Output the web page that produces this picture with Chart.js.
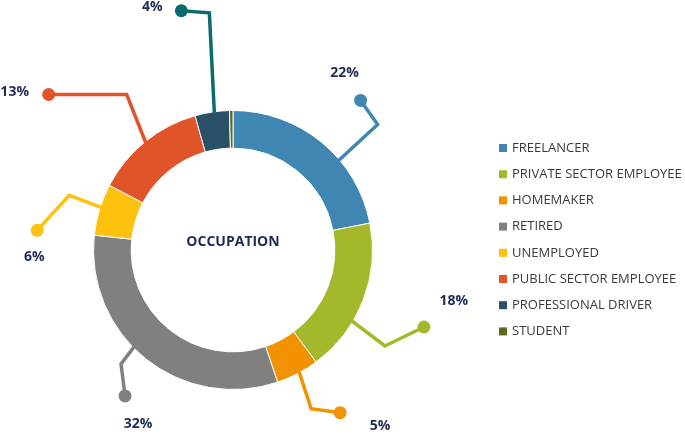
<!DOCTYPE html>
<html>
<head>
<meta charset="utf-8">
<script src="https://cdn.jsdelivr.net/npm/chart.js@4.4.1/dist/chart.umd.min.js"></script>
<style>
html,body{margin:0;padding:0;background:#fff;}
#wrap{position:relative;width:685px;height:434px;}
</style>
</head>
<body>
<div id="wrap"><canvas id="c" width="685" height="434"></canvas></div>
<script>
const categories = ["FREELANCER","PRIVATE SECTOR EMPLOYEE","HOMEMAKER","RETIRED","UNEMPLOYED","PUBLIC SECTOR EMPLOYEE","PROFESSIONAL DRIVER","STUDENT"];
const values = [22, 18, 5, 32, 6, 13, 4, 0.4];
const valueLabels = ["22%","18%","5%","32%","6%","13%","4%",""];
const centerTitle = "OCCUPATION";

const colors = ["#3F87B2","#A5B82B","#F29200","#808080","#FEC10E","#E0542A","#2A5068","#5B6B1F"];
const calloutColors = ["#3F87B2","#A5B82B","#F29200","#808080","#FEC10E","#E0542A","#0A6B6E",null];
// callout geometry: anchor fraction along arc, elbow/end/label offsets (px) from anchor
const callouts = [
  {t:0.63, elbow:[39,-36], end:[22,-60], label:[6,-87]},
  {t:0.65, elbow:[33,25], end:[72,6], label:[102,-20]},
  {t:0.45, elbow:[12,37], end:[41,41], label:[81,54]},
  {t:0.56, elbow:[-13,17], end:[-9,49], label:[4,77]},
  {t:0.55, elbow:[-32,-12], end:[-64,23], label:[-67,50]},
  {t:0.50, elbow:[-19,-48], end:[-97,-48], label:[-131,-50]},
  {t:0.56, elbow:[-5,-100], end:[-33,-102], label:[-62,-106]},
  null
];

const calloutPlugin = {
  id:'callouts',
  afterDatasetsDraw(chart){
    const ctx = chart.ctx;
    const meta = chart.getDatasetMeta(0);
    meta.data.forEach((arc,i)=>{
      const c = callouts[i];
      if(!c) return;
      const a = arc.startAngle + (arc.endAngle-arc.startAngle)*c.t;
      const r = arc.outerRadius - 1;
      const ax = arc.x + Math.cos(a)*r, ay = arc.y + Math.sin(a)*r;
      ctx.save();
      ctx.strokeStyle = calloutColors[i];
      ctx.fillStyle = calloutColors[i];
      ctx.lineWidth = 3.5;
      ctx.lineJoin = 'miter';
      ctx.beginPath();
      ctx.moveTo(ax,ay);
      ctx.lineTo(ax+c.elbow[0], ay+c.elbow[1]);
      ctx.lineTo(ax+c.end[0], ay+c.end[1]);
      ctx.stroke();
      ctx.beginPath();
      ctx.arc(ax+c.end[0], ay+c.end[1], 6.5, 0, Math.PI*2);
      ctx.fill();
      ctx.fillStyle = "#1F2B55";
      ctx.font = "bold 14px 'Open Sans', sans-serif";
      ctx.textAlign = 'center';
      ctx.textBaseline = 'middle';
      ctx.fillText(valueLabels[i], ax+c.label[0], ay+c.label[1]);
      ctx.restore();
    });
    // center title
    const a0 = meta.data[0];
    ctx.save();
    ctx.fillStyle = "#1F2B55";
    ctx.font = "bold 14px 'Open Sans', sans-serif";
    ctx.textAlign = 'center';
    ctx.textBaseline = 'middle';
    ctx.fillText(centerTitle, a0.x, a0.y - 8);
    ctx.restore();
    // legend
    ctx.save();
    ctx.font = "13px 'Open Sans', sans-serif";
    ctx.textBaseline = 'middle';
    ctx.textAlign = 'left';
    categories.forEach((name,i)=>{
      const y = 148 + i*26.2;
      ctx.fillStyle = colors[i];
      ctx.fillRect(499, y-4, 8, 8);
      ctx.fillStyle = "#3A3A3A";
      ctx.fillText(name, 512, y);
    });
    ctx.restore();
  }
};

new Chart(document.getElementById('c'), {
  type:'doughnut',
  data:{
    labels: categories,
    datasets:[{
      data: values,
      backgroundColor: colors,
      borderColor: '#ffffff',
      borderWidth: 1,
      hoverOffset: 0
    }]
  },
  options:{
    responsive:false,
    animation:false,
    cutout:'73%',
    rotation: 0,
    layout:{padding:{left:93, top:110, right:312, bottom:44}},
    plugins:{legend:{display:false}, tooltip:{enabled:false}}
  },
  plugins:[calloutPlugin]
});
</script>
</body>
</html>
